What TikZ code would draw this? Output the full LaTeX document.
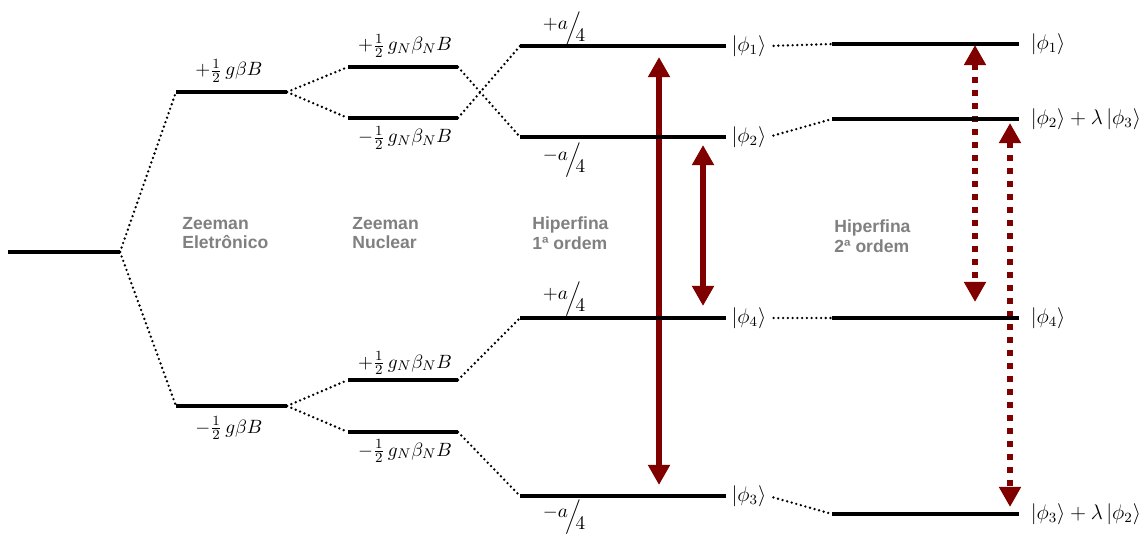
\documentclass[tikz,border=0pt]{standalone}
\usepackage{amsmath,amssymb}
\usepackage{fontspec}
\newfontfamily\rotulofont{Liberation Sans}
\usetikzlibrary{arrows.meta}
\definecolor{bordo}{RGB}{128,0,0}
\definecolor{cinza}{RGB}{128,128,128}
\newcommand{\estado}[1]{\left|\phi_{#1}\right\rangle}
\newcommand{\quarto}[1]{\raisebox{0.55ex}{$#1a$}\kern-0.12em\Big/\kern-0.3em\raisebox{-0.9ex}{$4$}}

\begin{document}
\begin{tikzpicture}[x=0.02cm,y=-0.02cm,
	nivel/.style={line width=1.8pt},
	conn/.style={line width=1.5pt,line cap=round,dash pattern=on 0pt off 2.7pt},
	trans/.style={bordo,line width=3.7pt,{Triangle[width=12pt,length=11.5pt]}-{Triangle[width=12pt,length=11.5pt]}},
	transp/.style={trans,dash pattern=on 3.7pt off 3.7pt},
	energia/.style={font=\fontsize{11}{13}\selectfont,inner sep=0pt},
	estado/.style={font=\fontsize{12}{14}\selectfont,anchor=west,inner sep=1pt},
	rotulo/.style={font=\rotulofont\bfseries\fontsize{10}{11.3}\selectfont,text=cinza,align=left,anchor=west,inner sep=0pt}]
	\useasboundingbox (0,0) rectangle (1142,540);
	\coordinate (a1t) at (659,57); \coordinate (a1b) at (659,485);
	\coordinate (a2t) at (703,145); \coordinate (a2b) at (703,306);
	\coordinate (b1t) at (975,45); \coordinate (b1b) at (975,302);
	\coordinate (b2t) at (1010,123); \coordinate (b2b) at (1010,507);
	\draw[trans] (a1t)--(a1b);
	\draw[trans] (a2t)--(a2b);
	\draw[transp] (b1t)--(b1b);
	\draw[transp] (b2t)--(b2b);
	\foreach \n/\xa/\xb/\y in {f/8/120/252, eu/176/287/92, ed/176/287/406,
		nuu/348/458/67, nud/348/458/118, ndu/348/458/380, ndd/348/458/432,
		h1/520/726/46, h2/520/726/137, h4/520/726/318, h3/520/726/496,
		s1/832/1019/44, s2/832/1019/119, s4/832/1019/318, s3/832/1019/514}{
		\coordinate (\n-l) at (\xa,\y);
		\coordinate (\n-r) at (\xb,\y);
		\draw[nivel] (\n-l)--(\n-r);
	}
	\draw[conn] (f-r)--(eu-l);
	\draw[conn] (f-r)--(ed-l);
	\draw[conn] (eu-r)--(nuu-l);
	\draw[conn] (eu-r)--(nud-l);
	\draw[conn] (ed-r)--(ndu-l);
	\draw[conn] (ed-r)--(ndd-l);
	\draw[conn] (nuu-r)--(h2-l);
	\draw[conn] (nud-r)--(h1-l);
	\draw[conn] (ndu-r)--(h4-l);
	\draw[conn] (ndd-r)--(h3-l);
	\node[estado,xshift=2pt] (k1) at (h1-r) {$\estado{1}$};
	\node[estado,xshift=2pt] (k2) at (h2-r) {$\estado{2}$};
	\node[estado,xshift=2pt] (k4) at (h4-r) {$\estado{4}$};
	\node[estado,xshift=2pt] (k3) at (h3-r) {$\estado{3}$};
	\node[estado,xshift=5.5pt] (m1) at (s1-r) {$\estado{1}$};
	\node[estado,xshift=5.5pt] (m2) at (s2-r) {$\estado{2}+\lambda\estado{3}$};
	\node[estado,xshift=5.5pt] (m4) at (s4-r) {$\estado{4}$};
	\node[estado,xshift=5.5pt] (m3) at (s3-r) {$\estado{3}+\lambda\estado{2}$};
	\draw[conn,shorten <=3pt] (k1.east)--(s1-l);
	\draw[conn,shorten <=3pt] (k2.east)--(s2-l);
	\draw[conn,shorten <=3pt] (k4.east)--(s4-l);
	\draw[conn,shorten <=3pt] (k3.east)--(s3-l);
	\node[energia] (ze1) at (229,71) {$+\tfrac{1}{2}\,g\beta B$};
	\node[energia] (ze2) at (229,428) {$-\tfrac{1}{2}\,g\beta B$};
	\node[energia] (zn1) at (405,46) {$+\tfrac{1}{2}\,g_N\beta_N B$};
	\node[energia] (zn2) at (405,138) {$-\tfrac{1}{2}\,g_N\beta_N B$};
	\node[energia] (zn3) at (405,363) {$+\tfrac{1}{2}\,g_N\beta_N B$};
	\node[energia] (zn4) at (405,451) {$-\tfrac{1}{2}\,g_N\beta_N B$};
	\node[energia] (hf1) at (564,29) {$\quarto{+}$};
	\node[energia] (hf2) at (564,160) {$\quarto{-}$};
	\node[energia] (hf4) at (564,299) {$\quarto{+}$};
	\node[energia] (hf3) at (564,517) {$\quarto{-}$};
	\node[rotulo] (t1) at (182,233) {Zeeman\\Eletrônico};
	\node[rotulo] (t2) at (352,233) {Zeeman\\Nuclear};
	\node[rotulo] (t3) at (532,233) {Hiperfina\\1ª ordem};
	\node[rotulo] (t4) at (834,236) {Hiperfina\\2ª ordem};
\end{tikzpicture}
\end{document}
